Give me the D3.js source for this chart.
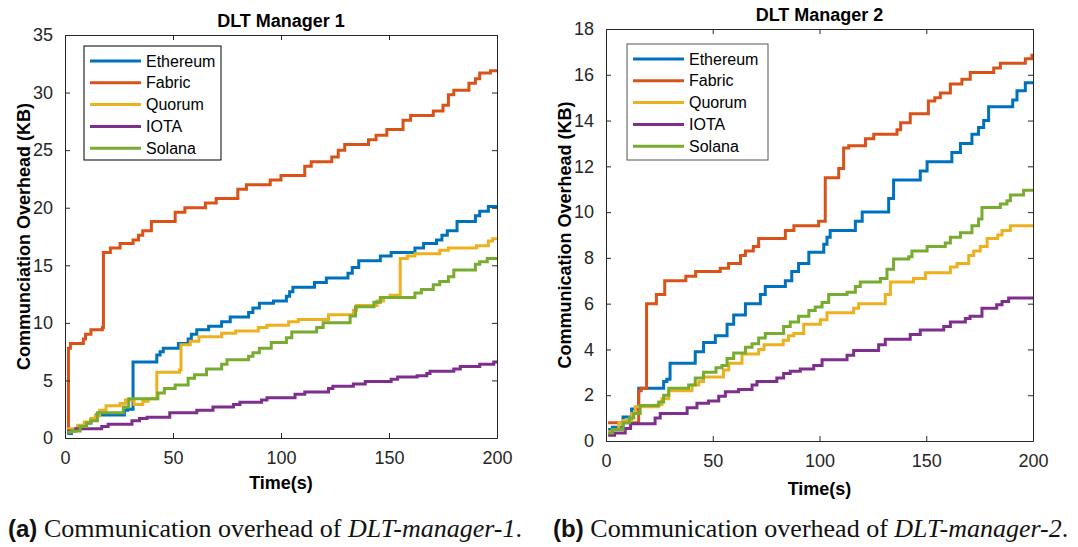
<!DOCTYPE html>
<html>
<head>
<meta charset="utf-8">
<script src="https://cdn.jsdelivr.net/npm/d3@7"></script>
<style>
  body{margin:0;background:#fff;}
  svg{display:block;font-family:"Liberation Sans",Arial,sans-serif;}
  .tick text{fill:#262626;font-size:18px;}
  .cap{font-family:"Liberation Serif","Times New Roman",serif;fill:#111;}
</style>
</head>
<body>
<svg id="fig" width="1078" height="547"></svg>
<script>
// ── data: [time (s), overhead (KB)] step points ──
const SERIES=["Ethereum","Fabric","Quorum","IOTA","Solana"];
const COLORS=["#0072BD","#D95319","#EDB120","#7E2F8E","#77AC30"];

const m1Ethereum=[[1,0.4],[3,0.7],[6,1.0],[9,1.3],[12,1.6],[14.5,2.0],[27.5,2.4],[29,2.5],[31.5,6.6],[42.5,7.2],[44,7.5],[45.5,7.8],[52.5,8.2],[57,8.6],[58.5,9.0],[61,9.4],[66.5,9.7],[72.5,10.1],[76.5,10.5],[85,10.9],[87,11.3],[90,11.7],[96.5,11.9],[102.5,12.3],[104,12.7],[105.5,13.1],[115.5,13.5],[121,13.9],[131,14.3],[133,14.8],[136,15.4],[146,15.8],[151,16.1],[162,16.5],[166,16.9],[172,17.2],[174.5,17.6],[177,18.0],[181.5,18.8],[190,19.3],[192,19.7],[196,20.1],[200,20.1]];
const m1Fabric=[[1,0.6],[1.6,7.8],[2.5,8.2],[8.5,8.6],[9.5,9.0],[12,9.4],[17.3,9.6],[17.8,16.1],[21,16.5],[25.5,16.9],[31.5,17.2],[34,17.6],[36,18.0],[40,18.8],[51,19.6],[55.5,20.0],[65,20.4],[70,20.8],[80,21.6],[84,22.0],[95,22.4],[100,22.8],[111,23.6],[114,24.0],[123.5,24.4],[126.5,25.0],[129.5,25.5],[140.5,25.9],[144,26.3],[149,26.8],[156.5,27.6],[160,28.0],[170.5,28.4],[175,28.9],[177.5,29.8],[180,30.2],[187,30.8],[190,31.2],[192,31.7],[197,31.9],[200,31.9]];
const m1Quorum=[[1,0.8],[6,1.1],[9,1.4],[12,1.7],[14,1.9],[16,2.4],[19,2.8],[25.5,3.0],[28,3.3],[32,2.9],[36,3.2],[38.5,3.4],[42.5,5.7],[53,5.9],[53.7,8.1],[58,8.4],[62,8.8],[72.5,9.1],[79,9.3],[89.5,9.6],[93.5,9.8],[103.5,10.1],[108,10.3],[122,10.7],[133.5,11.1],[135,11.5],[144.5,11.9],[147.5,12.2],[150.5,12.4],[155.2,15.6],[158.5,15.8],[162,16.0],[173.5,16.3],[177.5,16.5],[190.5,16.7],[196,17.1],[198,17.3],[200,17.3]];
const m1Iota=[[1,0.6],[5,0.8],[17,1.0],[20,1.2],[31,1.5],[34.5,1.7],[38,1.8],[48.5,2.2],[61,2.4],[68.5,2.7],[78,2.9],[81,3.1],[91,3.3],[93.5,3.5],[106.5,3.8],[111,4.0],[122,4.3],[124,4.5],[133.5,4.7],[139,4.9],[151,5.1],[154,5.3],[163,5.4],[167.5,5.6],[169,5.8],[180,6.0],[183,6.2],[192,6.4],[198.5,6.6],[200,6.6]];
const m1Solana=[[1,0.5],[3,0.6],[7,1.0],[10,1.3],[12,1.5],[15,2.2],[27,2.7],[29.5,3.4],[43,3.9],[46,4.3],[51,4.6],[57,5.2],[60,5.5],[65.5,6.0],[72.5,6.4],[75,6.8],[85,7.1],[87,7.4],[90,7.8],[95.5,8.3],[102.5,8.7],[105,9.2],[116.5,9.6],[119.5,10.0],[132,10.6],[134.5,11.4],[143,11.8],[146,12.2],[162,12.6],[165,12.9],[170.5,13.3],[173.5,13.6],[177.5,14.0],[180,14.6],[190,15.1],[192,15.3],[195.5,15.6],[200,15.6]];

const m2Ethereum=[[1,0.5],[3,0.6],[8,1.05],[12,1.4],[15.3,2.3],[27,2.6],[28.5,2.7],[30,3.4],[41.8,3.9],[45.7,4.3],[51.2,4.6],[56.7,5.1],[59.8,5.5],[65.3,6.0],[72.3,6.4],[74.6,6.75],[84,7.0],[87,7.4],[90.2,7.75],[95,8.25],[102,8.6],[103.5,8.9],[105,9.2],[116.8,9.6],[120,10.0],[132.4,10.6],[134.7,11.4],[147.2,11.8],[150.4,12.2],[162,12.6],[166,13.0],[171.4,13.4],[174.5,13.7],[176.9,14.0],[179.2,14.6],[190.5,14.9],[192.5,15.3],[196.4,15.65],[200,15.65]];
const m2Fabric=[[1,0.8],[15.3,2.2],[16.5,2.3],[19,6.0],[23.6,6.4],[27.5,7.0],[37.4,7.2],[42,7.4],[53.5,7.55],[57.4,7.75],[63,8.1],[65.3,8.3],[69,8.5],[71.5,8.85],[84,9.2],[88,9.4],[99.6,9.6],[102.7,11.5],[109,11.9],[111.3,12.8],[113.7,12.9],[121.5,13.2],[125.4,13.4],[136.3,13.6],[138,13.9],[142.5,14.3],[151,14.85],[154,15.0],[156.6,15.2],[161.3,15.6],[166.7,15.8],[170.6,16.1],[181.6,16.3],[184.7,16.5],[196.4,16.7],[199.5,16.85],[200,16.85]];
const m2Quorum=[[1,0.4],[3,0.5],[6,0.8],[8,0.9],[12,1.2],[13.7,1.5],[24.5,1.6],[26.2,1.85],[29.4,2.2],[40.3,2.45],[43.5,2.6],[45.7,2.8],[55,3.1],[57.5,3.4],[63.7,3.8],[71.5,4.0],[74,4.2],[83,4.4],[85.5,4.6],[88,4.7],[92.6,5.1],[100.4,5.3],[103.5,5.6],[116,5.8],[118.3,6.0],[130.8,6.4],[133.2,6.95],[144,7.1],[149.6,7.35],[161.3,7.6],[164.4,7.75],[169.9,8.1],[172.2,8.3],[175.3,8.5],[178.5,8.85],[183.5,9.0],[185.5,9.2],[189.4,9.4],[200,9.4]];
const m2Iota=[[1,0.25],[4,0.35],[9,0.55],[11.5,0.75],[23,1.0],[25.4,1.2],[38,1.45],[42.6,1.65],[48,1.75],[52.8,1.95],[55.9,2.15],[62.1,2.25],[68.4,2.45],[70.7,2.6],[80,2.75],[83.2,2.95],[86.3,3.05],[91,3.15],[97.3,3.3],[101.2,3.55],[112.9,3.75],[116,3.95],[127.7,4.2],[130.8,4.45],[142.5,4.65],[147.2,4.85],[158.2,5.0],[161.3,5.2],[168.3,5.35],[170.5,5.45],[176.1,5.8],[183,5.95],[185.5,6.1],[188.6,6.25],[200,6.25]];
const m2Solana=[[1,0.35],[3,0.5],[8,0.8],[11,1.0],[13,1.2],[16,1.55],[24.7,1.7],[27,2.0],[29.4,2.3],[38.7,2.45],[41.8,2.75],[45.7,3.0],[51.5,3.2],[54.3,3.3],[56.7,3.6],[59.8,3.85],[65.3,4.1],[68.4,4.25],[71.5,4.5],[74.6,4.7],[83.2,5.0],[86.3,5.2],[90.2,5.45],[95,5.7],[98,5.85],[101.2,6.05],[104.3,6.4],[112.9,6.5],[116.8,6.75],[119.1,6.95],[128.5,7.1],[131.6,7.5],[134.7,7.95],[141.8,8.05],[143.3,8.3],[150.4,8.5],[158.9,8.65],[161.3,8.9],[166,9.1],[171.4,9.4],[174.5,9.7],[176.1,10.2],[184.7,10.35],[187.8,10.5],[189.4,10.75],[195.6,10.95],[200,10.95]];

const xTicks=[0,50,100,150,200];
const yTicks1=[0,5,10,15,20,25,30,35];
const yTicks2=[0,2,4,6,8,10,12,14,16,18];

const svg=d3.select("#fig");

function panel(o){
  const g=svg.append("g");
  const x=d3.scaleLinear().domain([0,200]).range([o.l,o.r]);
  const y=d3.scaleLinear().domain([0,o.ymax]).range([o.b,o.t]);
  const ax="#262626";
  // clip for lines
  const cid="clip"+o.id;
  svg.append("clipPath").attr("id",cid).append("rect")
    .attr("x",o.l).attr("y",o.t).attr("width",o.r-o.l).attr("height",o.b-o.t);
  const line=d3.line().x(d=>x(d[0])).y(d=>y(d[1])).curve(d3.curveStepAfter);
  g.append("g").attr("clip-path",`url(#${cid})`).selectAll("path").data(o.data).join("path")
    .attr("d",line).attr("fill","none").attr("stroke",(d,i)=>COLORS[i])
    .attr("stroke-width",3).attr("stroke-linejoin","miter");
  // axes, ticks pointing inward (box on)
  const tl=5;
  const bx=g.append("g").attr("transform",`translate(0,${o.b})`)
    .call(d3.axisBottom(x).tickValues(xTicks).tickSizeInner(-tl).tickSizeOuter(0).tickPadding(13));
  const tx=g.append("g").attr("transform",`translate(0,${o.t})`)
    .call(d3.axisTop(x).tickValues(xTicks).tickSizeInner(-tl).tickSizeOuter(0).tickFormat(""));
  const ly=g.append("g").attr("transform",`translate(${o.l},0)`)
    .call(d3.axisLeft(y).tickValues(o.yt).tickSizeInner(-tl).tickSizeOuter(0).tickPadding(12));
  const ry=g.append("g").attr("transform",`translate(${o.r},0)`)
    .call(d3.axisRight(y).tickValues(o.yt).tickSizeInner(-tl).tickSizeOuter(0).tickFormat(""));
  [bx,tx,ly,ry].forEach(a=>{a.select(".domain").attr("stroke",ax).attr("stroke-width",1);
    a.selectAll(".tick line").attr("stroke",ax);a.selectAll("text").attr("font-family",null);});
  bx.selectAll(".tick text").attr("dy","0.71em");
  // title + labels
  g.append("text").attr("x",(o.l+o.r)/2).attr("y",o.t-8).attr("text-anchor","middle")
    .attr("font-weight","bold").attr("font-size",18).attr("fill","#000").text(o.title);
  g.append("text").attr("x",(o.l+o.r)/2).attr("y",o.b+o.xlabOff).attr("text-anchor","middle")
    .attr("font-weight","bold").attr("font-size",18).attr("fill","#000").text("Time(s)");
  g.append("text").attr("transform",`translate(${o.l-35},${(o.t+o.b)/2}) rotate(-90)`)
    .attr("text-anchor","middle").attr("font-weight","bold").attr("font-size",18)
    .attr("fill","#000").text(o.ylab);
  // legend
  const lg=g.append("g").attr("transform",`translate(${o.lx},${o.ly})`);
  lg.append("rect").attr("width",o.lw).attr("height",o.lh).attr("fill","#fff")
    .attr("stroke",o.lstroke).attr("stroke-width",1);
  SERIES.forEach((s,i)=>{
    const yy=15+i*21.8;
    lg.append("line").attr("x1",6).attr("x2",57).attr("y1",yy).attr("y2",yy)
      .attr("stroke",COLORS[i]).attr("stroke-width",3);
    lg.append("text").attr("x",62).attr("y",yy).attr("dy","0.35em").attr("font-size",16)
      .attr("fill","#000").text(s);
  });
}

panel({id:1,l:65,r:497,t:35,b:438,ymax:35,yt:yTicks1,title:"DLT Manager 1",xlabOff:51,
  ylab:"Communciation Overhead (KB)",data:[m1Ethereum,m1Fabric,m1Quorum,m1Iota,m1Solana],
  lx:84,ly:46,lw:137,lh:114,lstroke:"#000"});
panel({id:2,l:606,r:1033,t:29,b:441,ymax:18,yt:yTicks2,title:"DLT Manager 2",xlabOff:54,
  ylab:"Communication Overhead (KB)",data:[m2Ethereum,m2Fabric,m2Quorum,m2Iota,m2Solana],
  lx:627,ly:44,lw:141,lh:116,lstroke:"#555"});

// captions
function caption(x0,lab,name){
  const t=svg.append("text").attr("x",x0).attr("y",537).attr("font-size",26).attr("class","cap");
  t.append("tspan").attr("font-family","'Liberation Sans',Arial,sans-serif").attr("font-weight","bold")
    .attr("font-size",24).text(lab+" ");
  t.append("tspan").text("Communication overhead of ");
  t.append("tspan").attr("font-style","italic").text(name);
  t.append("tspan").text(".");
}
caption(8,"(a)","DLT-manager-1");
caption(553,"(b)","DLT-manager-2");
</script>
</body>
</html>
